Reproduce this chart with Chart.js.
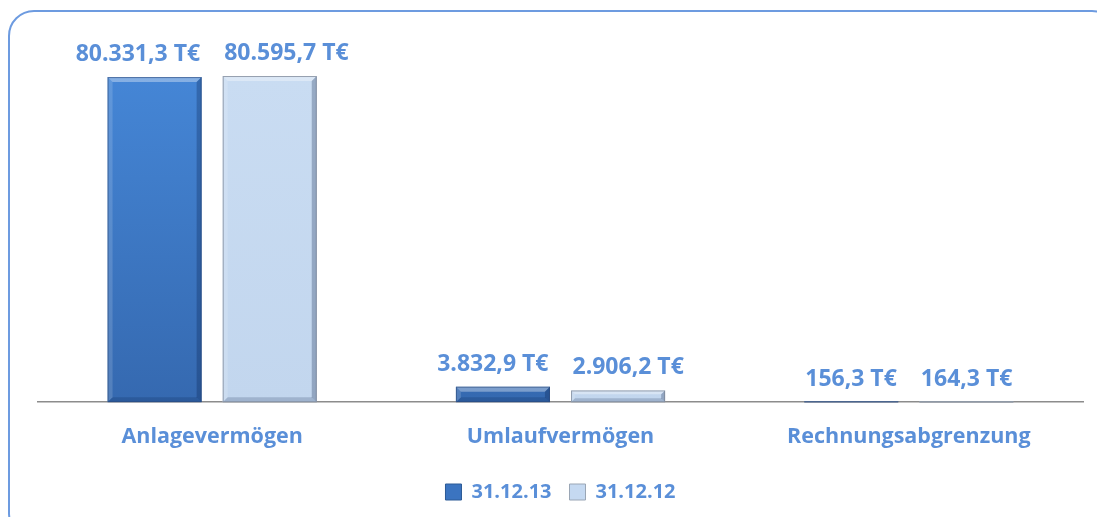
<!DOCTYPE html>
<html>
<head>
<meta charset="utf-8">
<script src="https://cdn.jsdelivr.net/npm/chart.js@4/dist/chart.umd.min.js"></script>
<style>
  html, body { margin: 0; padding: 0; background: #fff; overflow: hidden; }
  #frame {
    position: absolute; left: 8px; top: 10px; width: 1110px; height: 530px;
    border: 2px solid #6d9be0; border-radius: 26px; box-sizing: border-box;
  }
  #wrap { position: absolute; left: 0; top: 0; width: 1097px; height: 517px; }
</style>
</head>
<body>
<div id="frame"></div>
<div id="wrap"><canvas id="bilanzChart"></canvas></div>
<script>
// Aktiva (T€)
const categories = ['Anlagevermögen', 'Umlaufvermögen', 'Rechnungsabgrenzung'];
const seriesLabels = ['31.12.13', '31.12.12'];
const values2013 = [80331.3, 3832.9, 156.3];
const values2012 = [80595.7, 2906.2, 164.3];

const labelColor = '#5a8fd8';
const fontFamily = '"Open Sans", sans-serif';

const fmt = v => v.toLocaleString('de-DE', { minimumFractionDigits: 1, maximumFractionDigits: 1 }) + ' T€';

// bar fill with a bit of the bevel look from the office chart
const barFill = (dark) => (context) => {
  const { chart } = context;
  const area = chart.chartArea;
  if (!area) return dark ? '#3b74c0' : '#c5d9f1';
  const g = chart.ctx.createLinearGradient(0, area.top, 0, area.bottom);
  if (dark) {
    g.addColorStop(0, '#4586d6');
    g.addColorStop(1, '#3569b0');
  } else {
    g.addColorStop(0, '#c9dcf2');
    g.addColorStop(1, '#c2d6ee');
  }
  return g;
};

const bevelPlugin = {
  id: 'bevel',
  afterDatasetsDraw(chart) {
    const ctx = chart.ctx;
    chart.data.datasets.forEach((ds, i) => {
      const meta = chart.getDatasetMeta(i);
      meta.data.forEach(bar => {
        const { x, y, base, width } = bar.getProps(['x', 'y', 'base', 'width'], true);
        const l = x - width / 2, r = x + width / 2, h = base - y;
        const b = Math.min(5, h / 3);
        ctx.save();
        // top highlight
        ctx.fillStyle = 'rgba(255,255,255,0.35)';
        ctx.beginPath();
        ctx.moveTo(l, y); ctx.lineTo(r, y); ctx.lineTo(r - b, y + b); ctx.lineTo(l + b, y + b);
        ctx.closePath(); ctx.fill();
        // left light edge
        ctx.fillStyle = 'rgba(255,255,255,0.15)';
        ctx.beginPath();
        ctx.moveTo(l, y); ctx.lineTo(l + b, y + b); ctx.lineTo(l + b, base - b); ctx.lineTo(l, base);
        ctx.closePath(); ctx.fill();
        // right and bottom shade
        ctx.fillStyle = 'rgba(0,20,60,0.25)';
        ctx.beginPath();
        ctx.moveTo(r, y); ctx.lineTo(r, base); ctx.lineTo(r - b, base - b); ctx.lineTo(r - b, y + b);
        ctx.closePath(); ctx.fill();
        ctx.fillStyle = 'rgba(0,20,60,0.18)';
        ctx.beginPath();
        ctx.moveTo(l, base); ctx.lineTo(r, base); ctx.lineTo(r - b, base - b); ctx.lineTo(l + b, base - b);
        ctx.closePath(); ctx.fill();
        ctx.strokeStyle = i === 0 ? 'rgba(40,70,120,0.6)' : 'rgba(120,130,145,0.7)';
        ctx.lineWidth = 1;
        ctx.strokeRect(l + 0.5, y + 0.5, width - 1, h - 1);
        ctx.restore();
      });
    });
  }
};

// value labels above the bars; pairs that would collide get pushed apart
const valueLabels = {
  id: 'valueLabels',
  afterDatasetsDraw(chart) {
    const ctx = chart.ctx;
    const minGap = 24;
    ctx.save();
    ctx.font = 'bold 23px ' + fontFamily;
    ctx.fillStyle = labelColor;
    ctx.textAlign = 'center';
    ctx.textBaseline = 'bottom';
    const m0 = chart.getDatasetMeta(0).data, m1 = chart.getDatasetMeta(1).data;
    const d0 = chart.data.datasets[0].data, d1 = chart.data.datasets[1].data;
    m0.forEach((bar0, j) => {
      const bar1 = m1[j];
      const t0 = fmt(d0[j]), t1 = fmt(d1[j]);
      const w0 = ctx.measureText(t0).width, w1 = ctx.measureText(t1).width;
      const gap = (bar1.x - w1 / 2) - (bar0.x + w0 / 2);
      const shift = gap < minGap ? (minGap - gap) / 2 : 0;
      ctx.fillText(t0, bar0.x - shift, bar0.y - 11);
      ctx.fillText(t1, bar1.x + shift, bar1.y - 11);
    });
    ctx.restore();
  }
};

new Chart(document.getElementById('bilanzChart'), {
  type: 'bar',
  data: {
    labels: categories,
    datasets: [
      { label: seriesLabels[0], data: values2013, backgroundColor: barFill(true), borderWidth: 0 },
      { label: seriesLabels[1], data: values2012, backgroundColor: barFill(false), borderWidth: 0 }
    ]
  },
  options: {
    responsive: true,
    maintainAspectRatio: false,
    animation: false,
    categoryPercentage: 0.661,
    barPercentage: 0.817,
    layout: { padding: { left: 38, right: 14, top: 76, bottom: 5 } },
    plugins: {
      tooltip: { enabled: false },
      legend: {
        position: 'bottom',
        labels: {
          color: labelColor,
          font: { family: fontFamily, size: 20, weight: 'bold' },
          boxWidth: 16, boxHeight: 16, padding: 18,
          generateLabels: (chart) => chart.data.datasets.map((ds, i) => ({
            text: ds.label,
            fillStyle: i === 0 ? '#3b74c0' : '#c5d9f1',
            strokeStyle: i === 0 ? '#2c5a96' : '#9aa6b5',
            lineWidth: 1,
            fontColor: labelColor,
            datasetIndex: i
          }))
        }
      }
    },
    scales: {
      x: {
        grid: { display: false },
        border: { color: '#8c8c8c', width: 1.5 },
        ticks: {
          color: labelColor,
          font: { family: fontFamily, size: 21.5, weight: 'bold' },
          padding: 14
        }
      },
      y: {
        display: false,
        min: 0,
        max: 80600
      }
    }
  },
  plugins: [bevelPlugin, valueLabels]
});
</script>
</body>
</html>
